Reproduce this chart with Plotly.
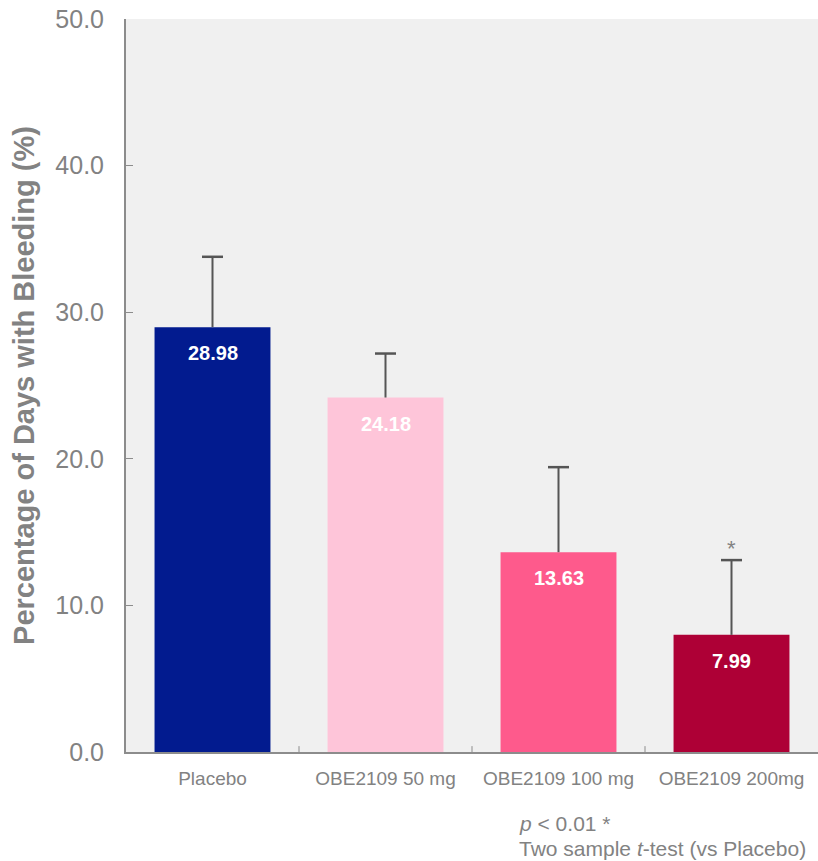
import plotly.graph_objects as go

categories = ["Placebo", "OBE2109 50 mg", "OBE2109 100 mg", "OBE2109 200mg"]
means = [28.98, 24.18, 13.63, 7.99]
err_plus = [4.8, 3.0, 5.8, 5.1]
bar_colors = ["#021b8f", "#fec5d9", "#fe5a8c", "#ae0036"]
y_ticks = [0, 10, 20, 30, 40, 50]

FONT = "Liberation Sans, Arial, sans-serif"
GREY = "#828282"
ERR = "#555555"

fig = go.Figure()
fig.add_trace(go.Bar(
    x=categories,
    y=means,
    marker=dict(color=bar_colors, line=dict(width=0)),
    width=0.67,
    hoverinfo="skip",
))

# one-sided (upper) error whiskers with a cap at the top
ex, ey = [], []
for c, v, e in zip(categories, means, err_plus):
    ex += [c, c, None]
    ey += [v, v + e, None]
fig.add_trace(go.Scatter(x=ex, y=ey, mode="lines",
                         line=dict(color=ERR, width=2), hoverinfo="skip"))
fig.add_trace(go.Scatter(x=categories, y=[v + e for v, e in zip(means, err_plus)],
                         mode="markers",
                         marker=dict(symbol="line-ew", size=15,
                                     line=dict(color=ERR, width=2.5)),
                         hoverinfo="skip"))

# value labels inside the top of each bar
for c, v in zip(categories, means):
    fig.add_annotation(x=c, y=v, text=f"<b>{v:.2f}</b>", showarrow=False,
                       yshift=-26, font=dict(family=FONT, size=20, color="white"))

# significance marker above the 200 mg error bar
fig.add_annotation(x=categories[3], y=means[3] + err_plus[3], text="*",
                   showarrow=False, yshift=12,
                   font=dict(family=FONT, size=22, color=GREY))

fig.add_annotation(xref="paper", yref="paper", x=(517 - 126) / 692, y=-0.097,
                   xanchor="left", yanchor="middle", showarrow=False,
                   text="<i>p</i> < 0.01 *",
                   font=dict(family=FONT, size=21, color=GREY))
fig.add_annotation(xref="paper", yref="paper", x=(517 - 126) / 692, y=-0.131,
                   xanchor="left", yanchor="middle", showarrow=False,
                   text="Two sample <i>t</i>-test (vs Placebo)",
                   font=dict(family=FONT, size=21, color=GREY))

fig.update_layout(
    width=818, height=861,
    margin=dict(l=126, r=0, t=19, b=109),
    paper_bgcolor="white",
    plot_bgcolor="#f0f0f0",
    showlegend=False,
    font=dict(family=FONT, color=GREY),
)
fig.update_xaxes(
    range=[-0.5, 3.5],
    showline=True, linecolor="#8c8c8c", linewidth=2,
    ticks="", tickfont=dict(size=19, color=GREY), ticklabelstandoff=8,
    showgrid=False, zeroline=False,
)
fig.update_yaxes(
    range=[0, 50],
    tickvals=y_ticks, ticktext=[f"{t:.1f}" for t in y_ticks],
    showline=True, linecolor="#8c8c8c", linewidth=2,
    ticks="inside", ticklen=7, tickcolor="#8c8c8c", tickwidth=1,
    tickfont=dict(size=25, color=GREY), ticklabelstandoff=15,
    showgrid=False, zeroline=False,
    title=dict(text="<b>Percentage of Days with Bleeding (%)</b>",
               font=dict(size=29, color=GREY), standoff=12),
)

# category separator ticks on the x axis
for i in range(1, len(categories)):
    fig.add_shape(type="line", xref="x", yref="paper",
                  x0=i - 0.5, x1=i - 0.5, y0=0, y1=0.008,
                  line=dict(color="#8c8c8c", width=1))

fig.write_html("out.html")
